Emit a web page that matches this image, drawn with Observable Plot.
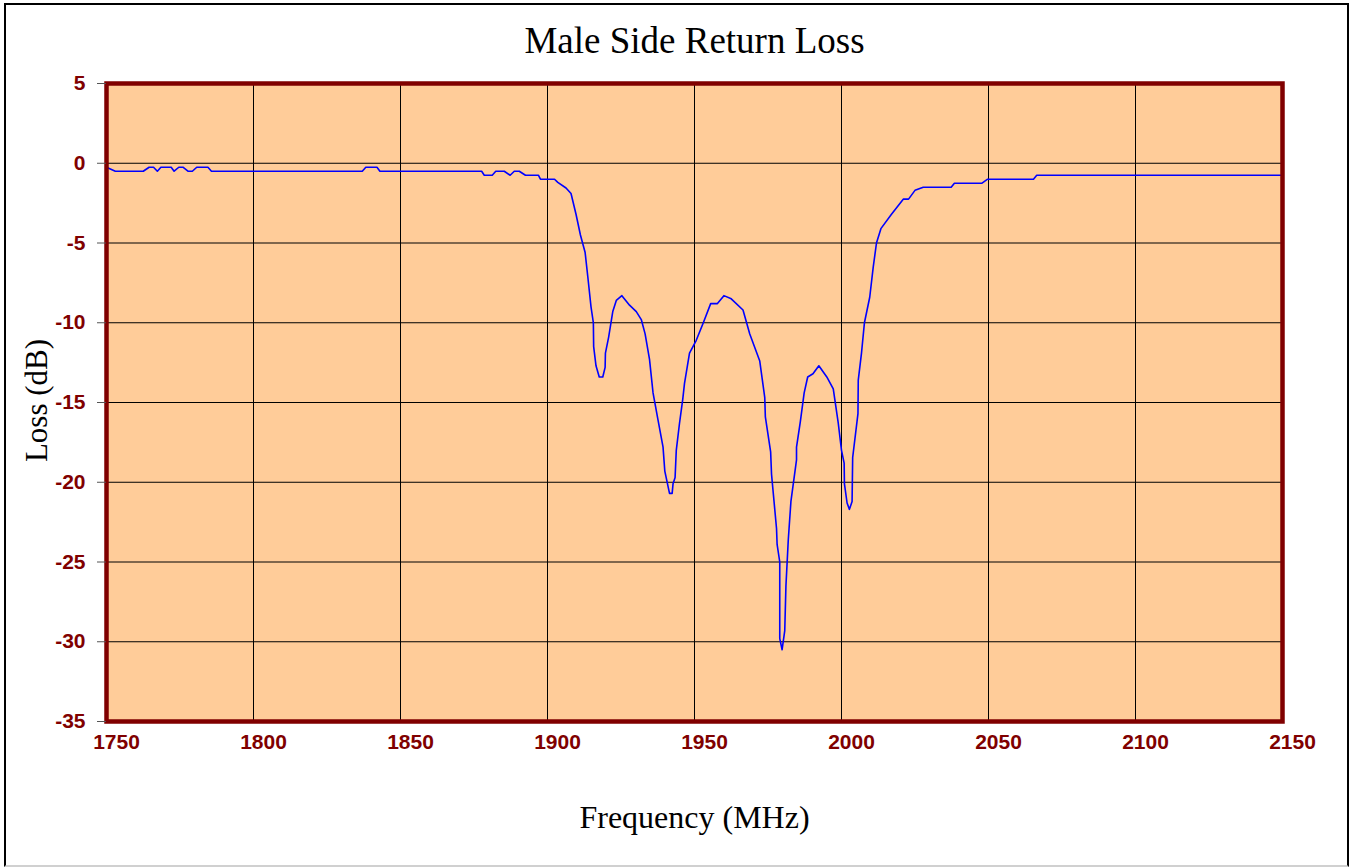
<!DOCTYPE html>
<html>
<head>
<meta charset="utf-8">
<script src="https://cdn.jsdelivr.net/npm/d3@7"></script>
<script src="https://cdn.jsdelivr.net/npm/@observablehq/plot@0.6"></script>
<style>
  html, body { margin: 0; padding: 0; background: #fff; }
  #wrap { position: relative; width: 1351px; height: 867px; overflow: hidden; }
  #border { position: absolute; left: 4px; top: 3px; width: 1345px; height: 864px; box-sizing: border-box;
            border: 2px solid #000; border-bottom-color: #d0d0d0; pointer-events: none; }
  svg { display: block; }
  g[aria-label$="tick label"], g[aria-label$="tick label"] text {
    font-family: 'Liberation Sans', Arial, sans-serif !important;
    font-size: 21px !important;
    font-weight: bold !important;
  }
</style>
</head>
<body>
<div id="wrap"><div id="border"></div></div>
<script>
// ---- data ----
const title = "Male Side Return Loss";
const xLabel = "Frequency (MHz)";
const yLabel = "Loss (dB)";
const xTicks = [1750, 1800, 1850, 1900, 1950, 2000, 2050, 2100, 2150];
const yTicks = [5, 0, -5, -10, -15, -20, -25, -30, -35];

const freq = [
  1750, 1753, 1762.5, 1764.5, 1766, 1767.3, 1768.5, 1772, 1773, 1774.6, 1776, 1777.7, 1779.2, 1780.7,
  1784.5, 1785.7, 1837, 1838.2, 1842, 1843, 1877.6, 1878.5, 1881.2, 1882.4, 1885.3, 1887.3, 1888.7,
  1890.4, 1892.5, 1896.9, 1897.6, 1902.4, 1903.5, 1906.3, 1908, 1909.7, 1911.2, 1912.8, 1913.7, 1914.8,
  1915.6, 1915.7, 1916.5, 1917.6, 1918.8, 1919.6, 1919.7, 1920.8, 1922.2, 1923.4, 1925.3, 1927.9,
  1930.2, 1931.9, 1933.2, 1934.7, 1935.9, 1937.6, 1939.3, 1939.9, 1941.5, 1942.4, 1942.7, 1943.4,
  1943.8, 1944.9, 1946.0, 1946.6, 1948.3, 1950.6, 1953.0, 1955.5, 1957.8, 1960.0, 1962.5, 1966.5,
  1968.8, 1972.2, 1973.9, 1974.1, 1975.9, 1976.2, 1977.9, 1978.1, 1979.0, 1979.0, 1979.8, 1980.7,
  1981.1, 1981.9, 1982.8, 1984.7, 1984.7, 1986.0, 1987.3, 1988.5, 1990.3, 1992.3, 1995.0, 1997.2,
  1998.9, 2000.0, 2000.9, 2001.0, 2001.9, 2002.7, 2003.6, 2003.8, 2005.6, 2005.7, 2006.8, 2007.8,
  2009.6, 2010.8, 2011.9, 2013.4, 2017.0, 2021.0, 2022.8, 2025.0, 2027.8, 2037.3, 2038.4, 2047.8,
  2049.7, 2065.3, 2066.4, 2150
];
const loss = [
  -0.25, -0.5, -0.5, -0.25, -0.25, -0.5, -0.25, -0.25, -0.5, -0.25, -0.25, -0.5, -0.5, -0.25,
  -0.25, -0.5, -0.5, -0.25, -0.25, -0.5, -0.5, -0.75, -0.75, -0.5, -0.5, -0.75, -0.5,
  -0.5, -0.75, -0.75, -1.0, -1.0, -1.2, -1.55, -1.9, -3.2, -4.5, -5.6, -7.1, -9.0,
  -10.0, -11.5, -12.7, -13.4, -13.4, -12.8, -11.9, -10.9, -9.3, -8.6, -8.3, -8.9,
  -9.3, -9.8, -10.7, -12.3, -14.4, -16.1, -17.8, -19.3, -20.7, -20.7, -20.1, -19.7,
  -18.0, -16.3, -14.8, -13.8, -11.9, -11.1, -10.0, -8.8, -8.8, -8.3, -8.5, -9.2,
  -10.7, -12.4, -14.7, -15.9, -18.1, -19.5, -22.9, -23.9, -25.0, -29.8, -30.5, -29.3,
  -26.5, -23.6, -21.2, -18.6, -17.8, -16.2, -14.4, -13.4, -13.2, -12.7, -13.4, -14.15,
  -16.3, -18.0, -18.8, -20.1, -21.3, -21.7, -21.2, -18.45, -15.7, -13.6, -11.9, -10.0,
  -8.4, -6.5, -5.0, -4.1, -3.2, -2.25, -2.25, -1.7, -1.5, -1.5, -1.25, -1.25,
  -1.0, -1.0, -0.75, -0.75
];

const rows = freq.map((f, i) => ({f, v: loss[i]}));

const dark = "#800000";
const serif = "'Liberation Serif', 'Times New Roman', serif";

const chart = Plot.plot({
  width: 1351,
  height: 867,
  marginTop: 83,
  marginLeft: 106,
  marginRight: 69,
  marginBottom: 146,
  style: {background: "transparent", overflow: "visible"},
  x: {domain: [1750, 2150], axis: null},
  y: {domain: [-35, 5], axis: null},
  marks: [
    Plot.frame({fill: "#FFCC99", stroke: "none"}),
    Plot.gridX(xTicks, {stroke: "#000", strokeOpacity: 1, strokeWidth: 1}),
    Plot.gridY(yTicks, {stroke: "#000", strokeOpacity: 1, strokeWidth: 1}),
    Plot.line(rows, {x: "f", y: "v", stroke: "#0000FF", strokeWidth: 1.6}),
    Plot.frame({stroke: dark, strokeWidth: 4.5}),
    // y tick marks
    Plot.axisY({ticks: yTicks, tickSize: 9, tickFormat: () => "", stroke: "#555", label: null}),
    // y tick labels
    Plot.axisY({ticks: yTicks, tickSize: 0, tickPadding: 21, tickFormat: d => String(d),
                fill: dark, color: dark, label: null}),
    // x tick labels
    Plot.axisX({ticks: xTicks, tickSize: 0, tickPadding: 13, dx: 10, tickFormat: d => String(d),
                fill: dark, color: dark, label: null}),
    // titles
    Plot.text([title], {frameAnchor: "top", dy: -42, text: d => d, fontFamily: serif, fontWeight: "normal",
                        fontSize: 37, fill: "#000", lineAnchor: "middle", textAnchor: "middle"}),
    Plot.text([xLabel], {frameAnchor: "bottom", dy: 96, text: d => d, fontFamily: serif, fontWeight: "normal",
                         fontSize: 32, fill: "#000", lineAnchor: "middle", textAnchor: "middle"}),
    Plot.text([yLabel], {frameAnchor: "left", dx: -69, dy: -2, rotate: -90, text: d => d,
                         fontFamily: serif, fontWeight: "normal", fontSize: 31, fill: "#000",
                         lineAnchor: "middle", textAnchor: "middle"})
  ]
});

document.getElementById("wrap").prepend(chart);
</script>
</body>
</html>
